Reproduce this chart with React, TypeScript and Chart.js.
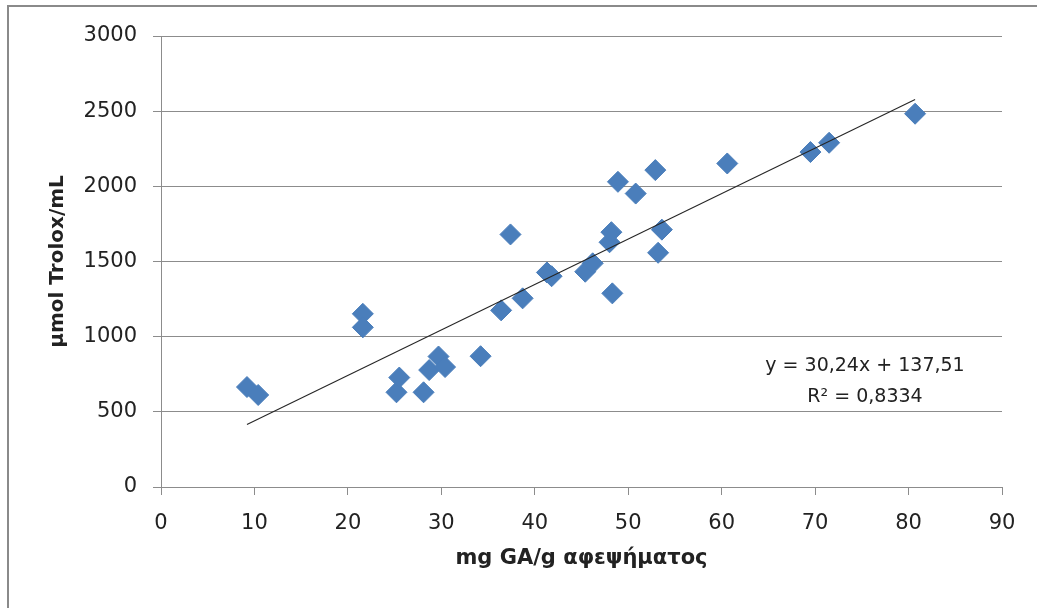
import React, { useEffect, useRef } from "react";
import { Chart, registerables } from "chart.js";

Chart.register(...registerables);

// Gallic acid content of each infusion (mg GA / g)
const gaContent: number[] = [
  9.2, 10.4, 21.6, 21.6, 25.2, 25.5, 28.1, 28.7, 29.7, 30.4,
  34.2, 36.4, 37.4, 38.7, 41.3, 41.8, 45.4, 46.2, 48.0, 48.2,
  48.3, 48.9, 50.8, 52.9, 53.2, 53.6, 60.6, 69.5, 71.5, 80.7,
];

// Antioxidant capacity of each infusion (μmol Trolox / mL)
const troloxEq: number[] = [
  665, 612, 1152, 1062, 630, 728, 630, 778, 868, 798,
  870, 1175, 1680, 1255, 1427, 1402, 1432, 1488, 1628, 1695,
  1288, 2030, 1952, 2108, 1558, 1712, 2152, 2228, 2290, 2483,
];

// Linear fit reported for the data
const fitSlope = 30.24;
const fitIntercept = 137.51;
const fitR2 = 0.8334;

const xTicks: number[] = [0, 10, 20, 30, 40, 50, 60, 70, 80, 90];
const yTicks: number[] = [0, 500, 1000, 1500, 2000, 2500, 3000];

const xTitle = "mg GA/g αφεψήματος";
const yTitle = "μmol Trolox/mL";

const FONT = '"DejaVu Sans", sans-serif';
const GRID = "#8c8c8c";
const TEXT = "#222222";

const comma = (v: number, digits: number) => v.toFixed(digits).replace(".", ",");

const equationLines = [
  `y = ${comma(fitSlope, 2)}x + ${comma(fitIntercept, 2)}`,
  `R² = ${comma(fitR2, 4)}`,
];

// White page with the grey outer frame (left and top edges)
const framePlugin = {
  id: "frame",
  beforeDraw(chart: any) {
    const { ctx, width, height } = chart;
    ctx.save();
    ctx.fillStyle = "#ffffff";
    ctx.fillRect(0, 0, width, height);
    ctx.strokeStyle = "#8a8a8a";
    ctx.lineWidth = 2;
    ctx.beginPath();
    ctx.moveTo(8, height);
    ctx.lineTo(8, 6);
    ctx.lineTo(width, 6);
    ctx.stroke();
    ctx.restore();
  },
};

// Trendline equation and R² label
const equationPlugin = {
  id: "equation",
  afterDatasetsDraw(chart: any) {
    const { ctx, chartArea } = chart;
    ctx.save();
    ctx.font = `19px ${FONT}`;
    ctx.fillStyle = TEXT;
    ctx.textAlign = "center";
    ctx.textBaseline = "middle";
    const cx = chartArea.right - 137;
    ctx.fillText(equationLines[0], cx, chartArea.top + 330);
    ctx.fillText(equationLines[1], cx, chartArea.top + 361);
    ctx.restore();
  },
};

export default function App() {
  const canvasRef = useRef<HTMLCanvasElement | null>(null);

  useEffect(() => {
    document.body.style.margin = "0";
    const canvas = canvasRef.current;
    if (!canvas) return;

    const points = gaContent.map((x, i) => ({ x, y: troloxEq[i] }));
    const xMin = Math.min(...gaContent);
    const xMax = Math.max(...gaContent);
    const trend = [xMin, xMax].map((x) => ({ x, y: fitSlope * x + fitIntercept }));

    const chart = new Chart(canvas, {
      type: "scatter",
      data: {
        datasets: [
          {
            label: "Linear fit",
            data: trend,
            showLine: true,
            borderColor: "#262626",
            borderWidth: 1.1,
            pointRadius: 0,
            fill: false,
          },
          {
            label: "Samples",
            data: points,
            pointStyle: "rectRot",
            pointRadius: 10.5,
            backgroundColor: "#4a7ebb",
            borderColor: "#4a7ebb",
            borderWidth: 1,
          },
        ],
      },
      options: {
        responsive: false,
        maintainAspectRatio: false,
        animation: false,
        devicePixelRatio: 1,
        layout: { padding: { left: 0, top: 36, right: 35, bottom: 0 } },
        plugins: {
          legend: { display: false },
          tooltip: { enabled: false },
        },
        scales: {
          x: {
            type: "linear",
            min: xTicks[0],
            max: xTicks[xTicks.length - 1],
            afterBuildTicks: (s: any) => {
              s.ticks = xTicks.map((v) => ({ value: v }));
            },
            afterFit: (s: any) => {
              s.height = 121;
            },
            ticks: {
              font: { family: FONT, size: 21 },
              color: TEXT,
              padding: 16,
              maxRotation: 0,
              callback: (v: any) => String(v),
            },
            grid: {
              drawOnChartArea: false,
              drawTicks: true,
              tickLength: 8,
              color: GRID,
            },
            border: { display: true, color: GRID, width: 1 },
            title: {
              display: true,
              text: xTitle,
              font: { family: FONT, size: 21, weight: "bold" },
              color: TEXT,
              padding: { top: 0, bottom: 37 },
            },
          },
          y: {
            type: "linear",
            min: yTicks[0],
            max: yTicks[yTicks.length - 1],
            afterBuildTicks: (s: any) => {
              s.ticks = yTicks.map((v) => ({ value: v }));
            },
            afterFit: (s: any) => {
              s.width = 161;
            },
            ticks: {
              font: { family: FONT, size: 21 },
              color: TEXT,
              padding: 16,
              callback: (v: any) => String(v),
            },
            grid: {
              drawOnChartArea: true,
              drawTicks: true,
              tickLength: 8,
              color: GRID,
            },
            border: { display: true, color: GRID, width: 1 },
            title: {
              display: true,
              text: yTitle,
              font: { family: FONT, size: 20, weight: "bold" },
              color: TEXT,
              padding: { top: 46, bottom: 0 },
            },
          },
        },
      },
      plugins: [framePlugin, equationPlugin],
    });

    return () => chart.destroy();
  }, []);

  return <canvas ref={canvasRef} width={1037} height={608} style={{ display: "block" }} />;
}
